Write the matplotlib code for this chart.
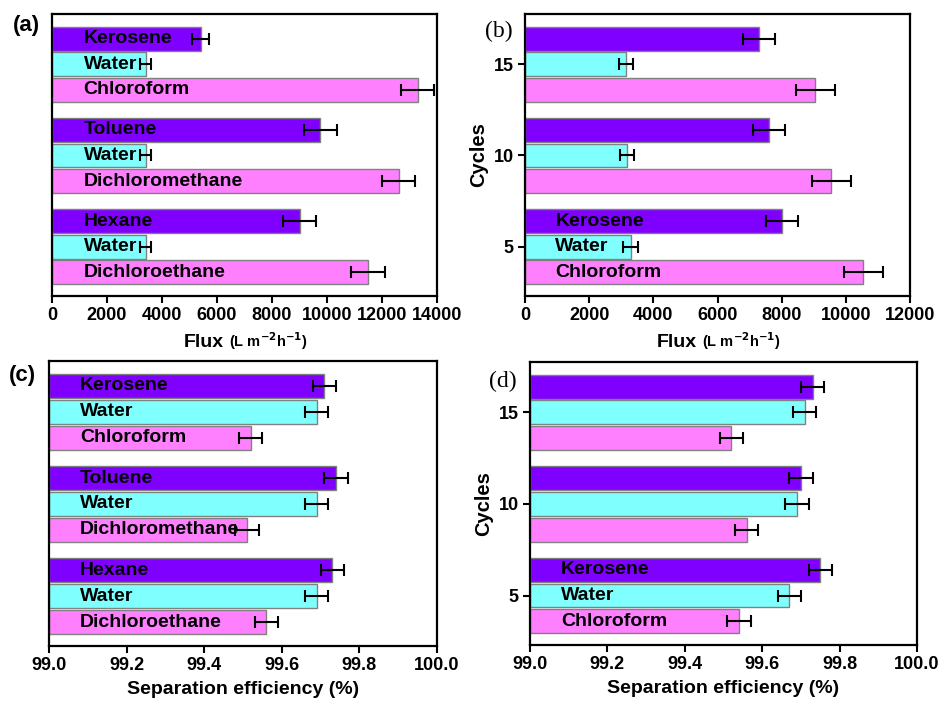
import matplotlib
matplotlib.use('Agg')
import matplotlib.pyplot as plt
from matplotlib.ticker import FormatStrFormatter

plt.rcParams['font.family'] = ['Liberation Sans', 'DejaVu Sans']
plt.rcParams['font.weight'] = 'bold'

# group positions, top to bottom (cycles 15, 10, 5)
groups = [15, 10, 5]

# (a) flux for different oils
a_names = [['Kerosene', 'Water', 'Chloroform'],
           ['Toluene', 'Water', 'Dichloromethane'],
           ['Hexane', 'Water', 'Dichloroethane']]
a_light = [5400, 9750, 9000]
a_light_err = [300, 600, 600]
a_water = [3400, 3400, 3400]
a_water_err = [210, 210, 210]
a_heavy = [13300, 12600, 11500]
a_heavy_err = [600, 600, 620]

# (b) flux vs cycles
b_names = ['Kerosene', 'Water', 'Chloroform']
b_light = [7300, 7600, 8000]
b_light_err = [500, 500, 500]
b_water = [3140, 3190, 3290]
b_water_err = [220, 220, 220]
b_heavy = [9050, 9550, 10550]
b_heavy_err = [610, 610, 600]

# (c) separation efficiency for different oils
c_light = [99.71, 99.74, 99.73]
c_water = [99.69, 99.69, 99.69]
c_heavy = [99.52, 99.51, 99.56]
c_err = [0.03, 0.03, 0.03]

# (d) separation efficiency vs cycles
d_light = [99.73, 99.70, 99.75]
d_water = [99.71, 99.69, 99.67]
d_heavy = [99.52, 99.56, 99.54]
d_err = [0.03, 0.03, 0.03]

colors = ['#8000FF', '#80FFFF', '#FF80FF']
offsets = [1.4, 0.0, -1.4]
W, H = 942, 701


def rect(x0, y0, x1, y1):
    return [x0 / W, 1 - y1 / H, (x1 - x0) / W, (y1 - y0) / H]


def draw(ax, series, errs, base, names, text_x, xlim, xticks, fmt=None):
    for k in range(3):
        ys = [g + offsets[k] for g in groups]
        widths = [v - base for v in series[k]]
        ax.barh(ys, widths, left=base, height=1.3, color=colors[k],
                edgecolor='#808080', linewidth=1.0, zorder=2)
        ax.errorbar(series[k], ys, xerr=errs[k], fmt='none', ecolor='black',
                    elinewidth=1.5, capsize=4, capthick=1.5, zorder=3)
    for gi, trio in names:
        for k in range(3):
            ax.text(text_x, groups[gi] + offsets[k], trio[k], fontsize=14,
                    fontweight='bold', va='center', ha='left', zorder=4)
    ax.set_xlim(*xlim)
    ax.set_xticks(xticks)
    if fmt:
        ax.xaxis.set_major_formatter(FormatStrFormatter(fmt))
    ax.set_ylim(2.3, 17.75)
    for s in ax.spines.values():
        s.set_linewidth(1.6)
    ax.tick_params(axis='x', direction='out', length=5, width=1.5, labelsize=13, pad=3)
    for lab in ax.get_xticklabels():
        lab.set_fontweight('bold')


fig = plt.figure(figsize=(9.42, 7.01), dpi=100)

axa = fig.add_axes(rect(52, 14, 437, 296))
draw(axa, [a_light, a_water, a_heavy], [a_light_err, a_water_err, a_heavy_err], 0,
     list(enumerate(a_names)), 1150, (0, 14000), range(0, 14001, 2000))
axa.set_yticks([])

axb = fig.add_axes(rect(525, 14, 910, 296))
draw(axb, [b_light, b_water, b_heavy], [b_light_err, b_water_err, b_heavy_err], 0,
     [(2, b_names)], 950, (0, 12000), range(0, 12001, 2000))

axc = fig.add_axes(rect(49, 361, 437, 646))
draw(axc, [c_light, c_water, c_heavy], [c_err] * 3, 99.0,
     list(enumerate(a_names)), 99.08, (99.0, 100.0),
     [99.0, 99.2, 99.4, 99.6, 99.8, 100.0], '%.1f')
axc.set_yticks([])

axd = fig.add_axes(rect(530, 362, 917, 645))
draw(axd, [d_light, d_water, d_heavy], [d_err] * 3, 99.0,
     [(2, b_names)], 99.08, (99.0, 100.0),
     [99.0, 99.2, 99.4, 99.6, 99.8, 100.0], '%.1f')

for ax in (axb, axd):
    ax.set_yticks(groups)
    ax.set_yticklabels([str(g) for g in groups])
    ax.tick_params(axis='y', direction='out', length=5, width=1.5, labelsize=13, pad=3)
    for lab in ax.get_yticklabels():
        lab.set_fontweight('bold')
    ax.set_ylabel('Cycles', fontsize=14.5, fontweight='bold', labelpad=4)

# flux axis labels: bold word plus smaller unit
for ax in (axa, axb):
    ax.text(0.447, -0.18, 'Flux', transform=ax.transAxes, ha='right', va='baseline',
            fontsize=14, fontweight='bold')
    ax.text(0.46, -0.18, r'(L m$^{\mathbf{-2}}$h$^{\mathbf{-1}}$)', transform=ax.transAxes,
            ha='left', va='baseline', fontsize=10.5, fontweight='bold')

for ax in (axc, axd):
    ax.set_xlabel('Separation efficiency (%)', fontsize=14, fontweight='bold', labelpad=5)

fig.text(26 / W, 1 - 26 / H, '(a)', ha='center', va='center', fontsize=16, fontweight='bold')
fig.text(22 / W, 1 - 376 / H, '(c)', ha='center', va='center', fontsize=16, fontweight='bold')
fig.text(499 / W, 1 - 31 / H, '(b)', ha='center', va='center', fontsize=17,
         family='Liberation Serif', fontweight='normal')
fig.text(503 / W, 1 - 381 / H, '(d)', ha='center', va='center', fontsize=17,
         family='Liberation Serif', fontweight='normal')

fig.savefig('out.png', dpi=100)
